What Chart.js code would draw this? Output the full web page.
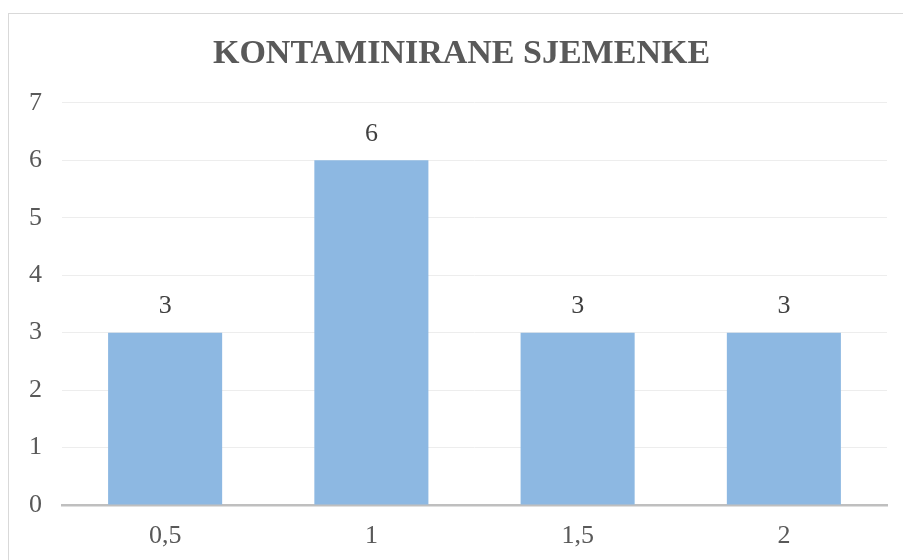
<!DOCTYPE html>
<html>
<head>
<meta charset="utf-8">
<script src="https://cdn.jsdelivr.net/npm/chart.js@4/dist/chart.umd.min.js"></script>
<style>
  html, body { margin: 0; padding: 0; background: #fff; overflow: hidden; }
  #wrap { position: relative; width: 903px; height: 560px; }
  #frame { position: absolute; left: 8px; top: 13px; width: 1000px; height: 1000px;
           border: 1px solid #d9d9d9; pointer-events: none; }
</style>
</head>
<body>
<div id="wrap">
  <canvas id="chart" width="903" height="560"></canvas>
  <div id="frame"></div>
</div>
<script>
const categories = ['0,5', '1', '1,5', '2'];
const values = [3, 6, 3, 3];
const chartTitle = 'KONTAMINIRANE SJEMENKE';

const serif = "'Liberation Serif', 'Times New Roman', serif";

// etikete iznad stupaca
const barLabels = {
  id: 'barLabels',
  afterDatasetsDraw(chart) {
    const ctx = chart.ctx;
    const meta = chart.getDatasetMeta(0);
    ctx.save();
    ctx.font = '26px ' + serif;
    ctx.fillStyle = '#404040';
    ctx.textAlign = 'center';
    ctx.textBaseline = 'middle';
    meta.data.forEach((bar, i) => {
      ctx.fillText(String(values[i]), bar.x, bar.y - 26);
    });
    ctx.restore();
  }
};

// naslov malo udesno, kao u originalu
const shiftTitle = {
  id: 'shiftTitle',
  afterLayout(chart) {
    if (chart.titleBlock) chart.titleBlock.left = 36;
  }
};

new Chart(document.getElementById('chart').getContext('2d'), {
  type: 'bar',
  data: {
    labels: categories,
    datasets: [{
      data: values,
      backgroundColor: '#8db8e2',
      categoryPercentage: 1,
      barPercentage: 0.553
    }]
  },
  options: {
    responsive: false,
    animation: false,
    layout: { padding: { top: 10, left: 8, right: 16, bottom: 0 } },
    plugins: {
      legend: { display: false },
      tooltip: { enabled: false },
      title: {
        display: true,
        text: chartTitle,
        color: '#595959',
        font: { family: serif, size: 34, weight: 'bold' },
        padding: { top: 24, bottom: 28 }
      }
    },
    scales: {
      x: {
        afterFit(scale) { scale.height = 55; },
        grid: { display: false, drawTicks: false },
        border: { display: true, color: '#bfbfbf', width: 2.5 },
        ticks: { color: '#595959', font: { family: serif, size: 26 }, padding: 16 }
      },
      y: {
        min: 0,
        max: 7,
        afterFit(scale) { scale.width = 54; },
        grid: { color: '#ededed', lineWidth: 1, drawTicks: false },
        border: { display: false },
        ticks: { stepSize: 1, color: '#595959', font: { family: serif, size: 26 }, padding: 20 }
      }
    }
  },
  plugins: [barLabels, shiftTitle]
});
</script>
</body>
</html>
